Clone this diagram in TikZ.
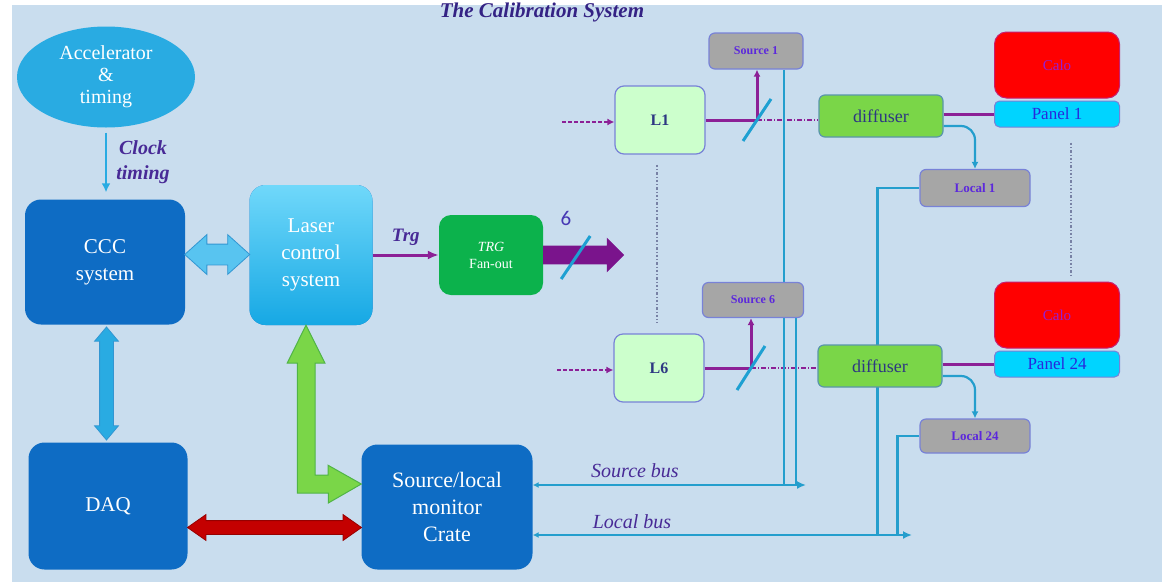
\documentclass[tikz,border=0pt]{standalone}
\usepackage{fontspec}
\setmainfont{Liberation Serif}
\newfontfamily\numfont{Carlito}
\usetikzlibrary{shapes.geometric,shapes.arrows,arrows.meta,calc,positioning}
\definecolor{bgblue}{RGB}{201,221,238}
\definecolor{titleblue}{RGB}{52,34,132}
\definecolor{cccblue}{RGB}{14,108,196}
\definecolor{accblue}{RGB}{41,171,226}
\definecolor{lasertop}{RGB}{112,216,250}
\definecolor{laserbot}{RGB}{22,168,228}
\definecolor{arrblue}{RGB}{88,196,240}
\definecolor{arredge}{RGB}{50,150,210}
\definecolor{trggreen}{RGB}{12,178,76}
\definecolor{beampurple}{RGB}{140,32,150}
\definecolor{fanpurple}{RGB}{122,20,140}
\definecolor{lblpurple}{RGB}{72,42,150}
\definecolor{sixblue}{RGB}{70,56,180}
\definecolor{lgreen}{RGB}{204,255,204}
\definecolor{boxedge}{RGB}{120,130,215}
\definecolor{boxgrey}{RGB}{166,166,166}
\definecolor{smalltext}{RGB}{92,40,220}
\definecolor{difgreen}{RGB}{122,214,72}
\definecolor{difedge}{RGB}{90,150,170}
\definecolor{diftext}{RGB}{45,55,130}
\definecolor{calored}{RGB}{255,0,0}
\definecolor{caloedge}{RGB}{200,30,110}
\definecolor{calotext}{RGB}{150,30,210}
\definecolor{panelcyan}{RGB}{0,212,255}
\definecolor{paneltext}{RGB}{40,40,220}
\definecolor{busblue}{RGB}{36,158,205}
\definecolor{splitblue}{RGB}{30,160,210}
\definecolor{armgreen}{RGB}{122,214,72}
\definecolor{armedge}{RGB}{80,180,70}
\definecolor{redarr}{RGB}{196,0,0}
\definecolor{rededge}{RGB}{150,0,0}
\definecolor{dotgrey}{RGB}{120,130,165}
\pgfdeclarelayer{back}
\pgfdeclarelayer{wires}
\pgfsetlayers{back,wires,main}
\tikzset{
	bigbox/.style={rounded corners=16pt,fill=cccblue,text=white,align=center,inner sep=0pt,font=\fontsize{21}{27}\selectfont},
	lbox/.style={rounded corners=9pt,fill=lgreen,draw=boxedge,line width=1.2pt,minimum width=90pt,minimum height=68pt,text=diftext,font=\fontsize{16}{18}\selectfont\bfseries},
	smallbox/.style={rounded corners=6pt,fill=boxgrey,draw=boxedge,line width=1.2pt,minimum height=36pt,text=smalltext,font=\fontsize{12}{14}\selectfont\bfseries},
	difbox/.style={rounded corners=6pt,fill=difgreen,draw=difedge,line width=1.2pt,minimum width=124pt,minimum height=42pt,text=diftext,font=\fontsize{18}{20}\selectfont},
	calobox/.style={rounded corners=12pt,fill=calored,draw=caloedge,line width=1pt,minimum width=125pt,minimum height=66pt,text=calotext,font=\fontsize{15}{17}\selectfont},
	panelbox/.style={rounded corners=5pt,fill=panelcyan,draw=boxedge,line width=1pt,minimum width=125pt,minimum height=26pt,text=paneltext,font=\fontsize{17}{19}\selectfont},
	blockarrow/.style={inner xsep=0pt,line width=0.8pt},
	beam/.style={draw=beampurple,line width=3pt},
	dashbeam/.style={draw=beampurple,line width=2pt,dash pattern=on 5pt off 2pt on 1pt off 2pt},
	bus/.style={draw=busblue,line width=2.2pt},
	splitter/.style={draw=splitblue,line width=3pt},
	dotline/.style={draw=dotgrey,line width=1.6pt,dash pattern=on 2.5pt off 2pt on 1pt off 2pt},
	lbl/.style={text=lblpurple,font=\fontsize{20}{25}\selectfont\bfseries\itshape},
	buslbl/.style={text=lblpurple,font=\fontsize{20}{22}\selectfont\itshape},
}
\begin{document}
\begin{tikzpicture}[x=1pt,y=-1pt]
\useasboundingbox (0,0) rectangle (1162,582);
\begin{pgfonlayer}{back}
\fill[bgblue] (12,5) rectangle (1162,582);
\end{pgfonlayer}
\node (title) at (542,12) [text=titleblue,font=\fontsize{21}{23}\selectfont\bfseries\itshape] {The Calibration System};

\node (acc) at (106,77) [ellipse,fill=accblue,text=white,minimum width=178pt,minimum height=101pt,inner sep=0pt,align=center,font=\fontsize{20}{22}\selectfont] {Accelerator\\\&\\timing};
\node (ccc) at (105,262) [bigbox,minimum width=160pt,minimum height=125pt] {CCC\\system};
\node (laser) at (311,255) [bigbox,top color=lasertop,bottom color=laserbot,minimum width=123pt,minimum height=140pt] {Laser\\control\\system};
\node (daq) at (108,506) [bigbox,minimum width=159pt,minimum height=127pt] {DAQ};
\node (crate) at (447,507) [bigbox,minimum width=171pt,minimum height=125pt,font=\fontsize{22}{27}\selectfont] {Source/local\\monitor\\Crate};
\node (trg) at (491,255) [bigbox,fill=trggreen,rounded corners=12pt,minimum width=104pt,minimum height=80pt,font=\fontsize{14}{17}\selectfont] {\textit{TRG}\\Fan-out};

\node (l1) at (660,120) [lbox] {L1};
\node (l6) at (659,368) [lbox] {L6};
\node (src1) at (756,51) [smallbox,minimum width=94pt] {Source 1};
\node (src6) at (753,300) [smallbox,minimum width=101pt,minimum height=35pt] {Source 6};
\node (dif1) at (881,116) [difbox] {diffuser};
\node (dif24) at (880,366) [difbox] {diffuser};
\node (loc1) at (975,188) [smallbox,minimum width=110pt,minimum height=37pt,font=\fontsize{13}{15}\selectfont\bfseries] {Local 1};
\node (loc24) at (975,436) [smallbox,minimum width=110pt,minimum height=34pt,font=\fontsize{13}{15}\selectfont\bfseries] {Local 24};
\node (calo1) at (1057,65) [calobox] {Calo};
\node (panel1) at (1057,114) [panelbox] {Panel 1};
\node (calo24) at (1057,315) [calobox] {Calo};
\node (panel24) at (1057,364) [panelbox] {Panel 24};

\node (cccdaq) at ($(ccc.south)!0.5!(daq.north)$) [blockarrow,double arrow,rotate=90,fill=accblue,draw=arredge,minimum height=113pt,minimum width=23pt,inner ysep=6.5pt,double arrow head extend=5pt,double arrow tip angle=80] {};
\node (ccclaser) at ($(ccc.east)!0.5!(laser.west)+(0,-4)$) [blockarrow,double arrow,fill=arrblue,draw=arredge,minimum height=65pt,minimum width=39pt,inner ysep=10pt,double arrow head extend=9.5pt,double arrow tip angle=84] {};
\node (daqcrate) at ($(daq.east)!0.5!(crate.west)+(0,21)$) [blockarrow,double arrow,fill=redarr,draw=rededge,minimum height=174pt,minimum width=25pt,inner ysep=6.5pt,double arrow head extend=6pt,double arrow tip angle=70] {};
\node (fan) at (trg.east) [blockarrow,single arrow,anchor=tail,fill=fanpurple,draw=fanpurple,minimum height=80pt,minimum width=32pt,inner ysep=8.5pt,single arrow head extend=7.5pt,single arrow tip angle=90] {};
\draw[splitter] ($(fan.tail)+(18,24)$) -- ($(fan.tail)+(47,-19)$);
\node (six) at (566,218) [text=sixblue,font=\numfont\fontsize{21}{23}\selectfont] {6};

\draw[fill=armgreen,draw=armedge,line width=1pt] ($(laser.south)+(-5,0)$) -- ++(19,38) -- ++(-10,0) -- ++(0,112) -- ++(13,0) -- ++(0,-10) -- ($(crate.west)+(0,-23)$) -- ++(-33,19) -- ++(0,-10) -- ++(-31,0) -- ++(0,-130) -- ++(-10,0) -- cycle;

\draw[bus,draw=accblue,-{Latex[length=9pt,width=9pt]},shorten <=5pt,shorten >=7pt] (acc.south) -- (acc.south |- ccc.north);
\node (clk) at (143,162) [lbl,align=center] {Clock\\timing};
\draw[beam,-{Latex[length=11pt,width=9pt]}] (laser.east) -- (trg.west) node[midway,above=5pt,lbl,font=\fontsize{19}{21}\selectfont\bfseries\itshape] {Trg};

\begin{pgfonlayer}{wires}
\coordinate (sp1) at (757,120);
\coordinate (sp6) at (751,368);
\coordinate (sb) at (806,485);
\coordinate (lb) at (912,535);
\draw[dashbeam,dash pattern=on 4pt off 2pt,-{Latex[length=7pt,width=7pt]}] ($(l1.west)+(-52,2)$) -- ($(l1.west)+(0,2)$);
\draw[dashbeam,dash pattern=on 4pt off 2pt,-{Latex[length=7pt,width=7pt]}] ($(l6.west)+(-56,2)$) -- ($(l6.west)+(0,2)$);
\draw[beam] (l1.east) -- (sp1);
\draw[dashbeam] (sp1) -- (dif1.west |- sp1);
\draw[beam,-{Latex[length=7pt,width=7pt]}] (sp1) -- (sp1 |- src1.south);
\draw[beam] (l6.east) -- (sp6);
\draw[dashbeam] (sp6) -- (dif24.west |- sp6);
\draw[beam,-{Latex[length=7pt,width=7pt]}] (sp6) -- (sp6 |- src6.south);
\draw[beam] (dif1.east |- panel1.west) -- (panel1.west);
\draw[beam] (dif24.east |- panel24.west) -- (panel24.west);
\draw[dotline] ($(l1.south)+(-3,10)$) -- ($(l6.north)+(-2,-10)$);
\draw[dotline] ($(panel1.south)+(14,15)$) -- ($(calo24.north)+(14,-5)$);
\draw[bus] ($(src1.south east)+(-20,0)$) coordinate (s1) -- (s1 |- sb);
\draw[bus] ($(src6.south east)+(-8,0)$) coordinate (s6) -- (s6 |- sb);
\draw[bus] (loc1.west) -- ++(-42,0) coordinate (l1d) -- (l1d |- lb);
\draw[bus] (loc24.west) -- ++(-22,0) coordinate (l24d) -- (l24d |- lb);
\draw[bus,rounded corners=14pt,-{Latex[length=7pt,width=7pt]}] ($(dif1.east)+(0,10)$) -| (loc1.north);
\draw[bus,rounded corners=14pt,-{Latex[length=7pt,width=7pt]}] ($(dif24.east)+(0,10)$) -| (loc24.north);
\draw[bus,{Latex[length=6pt,width=6pt]}-{Latex[length=9pt,width=8pt]}] (crate.east |- sb) -- (sb);
\draw[bus,{Latex[length=6pt,width=6pt]}-{Latex[length=9pt,width=8pt]}] (crate.east |- lb) -- (lb);
\end{pgfonlayer}
\draw[splitter] ($(sp1)+(-14,21)$) -- ($(sp1)+(14,-21)$);
\draw[splitter] ($(sp6)+(-14,22)$) -- ($(sp6)+(14,-22)$);
\node (srcbus) at (635,471) [buslbl] {Source bus};
\node (locbus) at (632,522) [buslbl] {Local bus};
\end{tikzpicture}
\end{document}
